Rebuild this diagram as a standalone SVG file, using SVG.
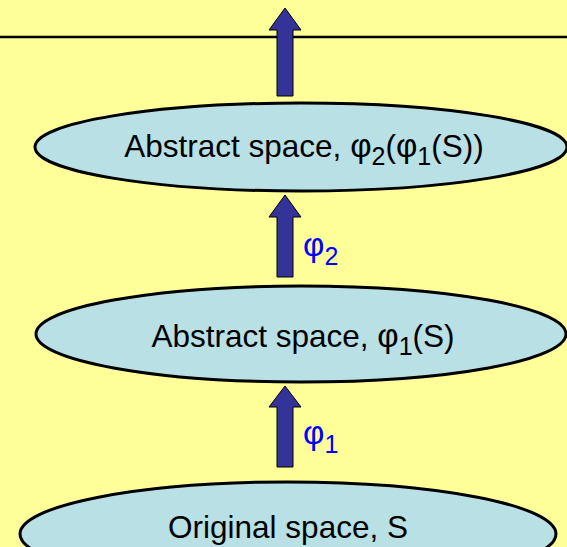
<svg xmlns="http://www.w3.org/2000/svg" width="567" height="547" viewBox="0 0 567 547">
<defs>
<style>
.bg{fill:#FFFF99}
.node ellipse{fill:#B9E0E5;stroke:#000;stroke-width:3}
.node text{font-family:"Liberation Sans",Arial,sans-serif;font-size:31.5px;fill:#000;text-anchor:middle}
.arrow{fill:#333399;stroke:#000;stroke-width:1}
.lbl{font-family:"Liberation Sans",Arial,sans-serif;font-size:33px;fill:#0000FF}
.sub{font-size:25px}
.phi{font-size:33px}
</style>
</defs>
<rect class="bg" x="0" y="0" width="567" height="547"/>
<line x1="0" y1="37" x2="567" y2="37" stroke="#000" stroke-width="2.5"/>
<g id="node-top" class="node">
<ellipse cx="301" cy="147" rx="266" ry="44"/>
<text x="304" y="157">Abstract space, <tspan class="phi">φ</tspan><tspan class="sub" dy="8">2</tspan><tspan dy="-8">(</tspan><tspan class="phi">φ</tspan><tspan class="sub" dy="8">1</tspan><tspan dy="-8">(S))</tspan></text>
</g>
<g id="node-middle" class="node">
<ellipse cx="301" cy="334" rx="265" ry="48"/>
<text x="303" y="347">Abstract space, <tspan class="phi">φ</tspan><tspan class="sub" dy="8">1</tspan><tspan dy="-8">(S)</tspan></text>
</g>
<g id="node-bottom" class="node">
<ellipse cx="288" cy="534" rx="268" ry="52"/>
<text x="288" y="538">Original space, S</text>
</g>
<g id="connectors">
<polygon class="arrow" points="285,8 301,30 293,30 293,96 277,96 277,30 269,30"/>
<polygon class="arrow" points="285,195 301,217 293,217 293,277 277,277 277,217 269,217"/>
<polygon class="arrow" points="285,386 301,407 293,407 293,467 277,467 277,407 269,407"/>
<text class="lbl" x="303" y="256">φ<tspan class="sub" dy="9">2</tspan></text>
<text class="lbl" x="303" y="444">φ<tspan class="sub" dy="9">1</tspan></text>
</g>
</svg>
